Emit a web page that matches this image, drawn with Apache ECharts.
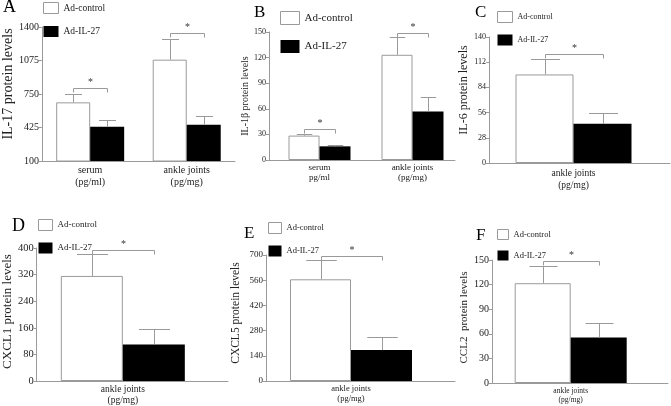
<!DOCTYPE html>
<html>
<head>
<meta charset="utf-8">
<script src="https://cdn.jsdelivr.net/npm/echarts@6/dist/echarts.min.js"></script>
<style>
html,body{margin:0;padding:0;background:#fff;}
#c{width:671px;height:406px;}
</style>
</head>
<body>
<div id="c"></div>
<script>
// ---------- data ----------
const seriesNames = ['Ad-control', 'Ad-IL-27'];

const catsA = ['serum\n(pg/ml)', 'ankle joints\n(pg/mg)'];
const il17Control = [669, 1083];
const il17ControlSem = [84, 200];
const il17Il27 = [433, 452];
const il17Il27Sem = [65, 85];
const il17Sig = [808, 1342];
const ticksA = [100, 425, 750, 1075, 1400];

const catsB = ['serum\npg/ml', 'ankle joints\n(pg/mg)'];
const il1bControl = [28.6, 123.3];
const il1bControlSem = [2.3, 21.2];
const il1bIl27 = [16, 56.8];
const il1bIl27Sem = [2, 17.2];
const il1bSig = [36.8, 148.4];

const catsC = ['ankle joints\n(pg/mg)'];
const il6Control = [98.4];
const il6ControlSem = [16.9];
const il6Il27 = [43.6];
const il6Il27Sem = [12.2];
const il6Sig = [121];

const catsD = ['ankle joints\n(pg/mg)'];
const cxcl1Control = [316];
const cxcl1ControlSem = [65];
const cxcl1Il27 = [110];
const cxcl1Il27Sem = [47];
const cxcl1Sig = [395];

const catsE = ['ankle joints\n(pg/mg)'];
const cxcl5Control = [565];
const cxcl5ControlSem = [109];
const cxcl5Il27 = [172];
const cxcl5Il27Sem = [72];
const cxcl5Sig = [697];

const catsF = ['ankle joints\n(pg/mg)'];
const ccl2Control = [121.7];
const ccl2ControlSem = [21];
const ccl2Il27 = [55.5];
const ccl2Il27Sem = [17.3];
const ccl2Sig = [148.8];

// ---------- panel setup ----------
const FONT = '"Liberation Serif", "DejaVu Serif", serif';
const GRAY = '#9a9a9a';

const panels = [
  {letter:'A', cats:catsA, ctrl:il17Control, ctrlSem:il17ControlSem, il27:il17Il27, il27Sem:il17Il27Sem, sig:il17Sig,
   yName:'IL-17 protein levels', yMin:100, yMax:1400, custom:ticksA,
   grid:{left:30, top:27, width:205, height:134}, bw:34, shift:0,
   yFont:10, nameFont:14, nameGap:17, namePad:[0,0,0,20], xFont:10, xLH:12, xMargin:3,
   title:{left:3, top:-2, size:18},
   legend:{left:43, top:2, w:15, h:11, gap:12, font:9.5}},
  {letter:'B', cats:catsB, ctrl:il1bControl, ctrlSem:il1bControlSem, il27:il1bIl27, il27Sem:il1bIl27Sem, sig:il1bSig,
   yName:'IL-1\u03b2 protein levels', yMin:0, yMax:150, interval:30,
   grid:{left:269, top:32, width:186, height:128}, bw:31, shift:4,
   yFont:8, nameFont:10, nameGap:16, namePad:[0,0,0,0], xFont:9, xLH:10, xMargin:3,
   title:{left:254, top:4, size:17},
   legend:{left:280, top:11, w:19, h:13, gap:15, font:11}},
  {letter:'C', cats:catsC, ctrl:il6Control, ctrlSem:il6ControlSem, il27:il6Il27, il27Sem:il6Il27Sem, sig:il6Sig,
   yName:'IL-6 protein levels', yMin:0, yMax:140, interval:28,
   grid:{left:489, top:37, width:181, height:126}, bw:58, shift:-6,
   yFont:8, nameFont:12, nameGap:14, namePad:[0,0,0,20], xFont:9.5, xLH:12, xMargin:4,
   title:{left:475, top:4, size:17},
   legend:{left:497, top:11, w:15, h:11, gap:11.5, font:8}},
  {letter:'D', cats:catsD, ctrl:cxcl1Control, ctrlSem:cxcl1ControlSem, il27:cxcl1Il27, il27Sem:cxcl1Il27Sem, sig:cxcl1Sig,
   yName:'CXCL1 protein levels', yMin:0, yMax:400, interval:80,
   grid:{left:31, top:248, width:197, height:134}, bw:62, shift:-9.5,
   yFont:10.5, nameFont:13, nameGap:16, namePad:[0,0,0,6], xFont:9.5, xLH:11, xMargin:3,
   title:{left:12, top:217, size:18},
   legend:{left:38, top:219, w:14, h:11, gap:11.5, font:9}},
  {letter:'E', cats:catsE, ctrl:cxcl5Control, ctrlSem:cxcl5ControlSem, il27:cxcl5Il27, il27Sem:cxcl5Il27Sem, sig:cxcl5Sig,
   yName:'CXCL5 protein levels', yMin:0, yMax:700, interval:140,
   grid:{left:266, top:255, width:189, height:126}, bw:61, shift:-9.5,
   yFont:9, nameFont:11.5, nameGap:24, namePad:[0,0,0,10], xFont:8.5, xLH:10, xMargin:3,
   title:{left:244, top:225, size:17},
   legend:{left:268, top:222, w:13, h:11, gap:11.5, font:8.5}},
  {letter:'F', cats:catsF, ctrl:ccl2Control, ctrlSem:ccl2ControlSem, il27:ccl2Il27, il27Sem:ccl2Il27Sem, sig:ccl2Sig,
   yName:'CCL2  protein levels', yMin:0, yMax:150, interval:30,
   grid:{left:492, top:260, width:176, height:123}, bw:56, shift:-9.3,
   yFont:10, nameFont:11, nameGap:17, namePad:[0,0,0,8], xFont:7.5, xLH:9, xMargin:4,
   title:{left:476, top:227, size:17},
   legend:{left:497, top:229, w:11, h:10, gap:10.5, font:8.5}}
];

function errRender(bw, shift){
  return function(params, api){
    const j = api.value(0), m = api.value(1), hi = api.value(2), g = api.value(3);
    const c = api.coord([j, m]);
    const t = api.coord([j, hi]);
    const x = Math.round(c[0] + shift + (g === 0 ? -bw/2 : bw/2)) + 0.5;
    const ty = Math.round(t[1]) + 0.5;
    const st = {stroke: GRAY, lineWidth: 1};
    return {type:'group', children:[
      {type:'line', shape:{x1:x, y1:c[1], x2:x, y2:ty}, style:st},
      {type:'line', shape:{x1:x - bw/4, y1:ty, x2:x + bw/4, y2:ty}, style:st}
    ]};
  };
}
function sigRender(bw, shift){
  return function(params, api){
    const j = api.value(0), v = api.value(1);
    const c = api.coord([j, v]);
    const x1 = Math.round(c[0] + shift - bw/2) + 0.5, x2 = Math.round(c[0] + shift + bw/2) + 0.5;
    const y = Math.round(c[1]) + 0.5;
    const st = {stroke: GRAY, lineWidth: 1, fill: null};
    return {type:'group', children:[
      {type:'polyline', shape:{points:[[x1, y + 4], [x1, y], [x2, y], [x2, y + 4]]}, style:st},
      {type:'text', style:{text:'*', x:(x1 + x2)/2, y:y - 1, align:'center', verticalAlign:'bottom',
        font:'10px ' + FONT, fill:'#333'}}
    ]};
  };
}

const grids = [], xAxes = [], yAxes = [], series = [], legends = [], titles = [];
panels.forEach((p, i) => {
  grids.push(Object.assign({containLabel:false}, p.grid));
  const padL = p.shift > 0 ? 2*p.shift : 0, padR = p.shift < 0 ? -2*p.shift : 0;
  xAxes.push({type:'category', gridIndex:i, data:p.cats,
    axisLine:{lineStyle:{color:GRAY, width:1}}, axisTick:{show:false},
    axisLabel:{fontFamily:FONT, fontSize:p.xFont, lineHeight:p.xLH, color:'#222', margin:p.xMargin,
      padding:[0, padR, 0, padL], interval:0}});
  const y = {type:'value', gridIndex:i, min:p.yMin, max:p.yMax,
    name:p.yName, nameLocation:'middle', nameRotate:90, nameGap:p.nameGap,
    nameTextStyle:{fontFamily:FONT, fontSize:p.nameFont, color:'#222', padding:p.namePad},
    splitLine:{show:false},
    axisLine:{show:true, lineStyle:{color:GRAY, width:1}},
    axisTick:{show:true, length:3, lineStyle:{color:GRAY}},
    axisLabel:{fontFamily:FONT, fontSize:p.yFont, color:'#222', margin:3, formatter:v => String(v)}};
  if (p.custom) {
    y.axisLabel.customValues = p.custom;
    y.axisTick.customValues = p.custom;
  } else {
    y.interval = p.interval;
  }
  yAxes.push(y);

  const spacer = w => ({type:'bar', name:'spacer' + i, xAxisIndex:i, yAxisIndex:i, barWidth:w, barGap:'0%',
    data:p.cats.map(() => 0), itemStyle:{color:'rgba(0,0,0,0)'}, silent:true});
  if (p.shift > 0) series.push(spacer(2*p.shift));
  series.push({type:'bar', name:seriesNames[0], xAxisIndex:i, yAxisIndex:i, barWidth:p.bw, barGap:'0%',
    data:p.ctrl, itemStyle:{color:'#fff', borderColor:GRAY, borderWidth:1}, silent:true});
  series.push({type:'bar', name:seriesNames[1], xAxisIndex:i, yAxisIndex:i, barWidth:p.bw, barGap:'0%',
    data:p.il27, itemStyle:{color:'#000'}, silent:true});
  if (p.shift < 0) series.push(spacer(-2*p.shift));

  const errData = [];
  p.cats.forEach((c, j) => {
    errData.push([j, p.ctrl[j], p.ctrl[j] + p.ctrlSem[j], 0]);
    errData.push([j, p.il27[j], p.il27[j] + p.il27Sem[j], 1]);
  });
  series.push({type:'custom', name:'err' + i, xAxisIndex:i, yAxisIndex:i, data:errData,
    encode:{x:0, y:[1, 2]}, renderItem:errRender(p.bw, p.shift), silent:true, z:5});
  series.push({type:'custom', name:'sig' + i, xAxisIndex:i, yAxisIndex:i,
    data:p.sig.map((v, j) => [j, v]), encode:{x:0, y:1}, renderItem:sigRender(p.bw, p.shift), silent:true, z:5});

  legends.push({
    data:[
      {name:seriesNames[0], icon:'rect', itemStyle:{color:'#fff', borderColor:GRAY, borderWidth:1}},
      {name:seriesNames[1], icon:'rect', itemStyle:{color:'#000', borderWidth:0}}
    ],
    orient:'vertical', left:p.legend.left, top:p.legend.top,
    padding:0, itemWidth:p.legend.w, itemHeight:p.legend.h, itemGap:p.legend.gap, selectedMode:false,
    textStyle:{fontFamily:FONT, fontSize:p.legend.font, color:'#222', lineHeight:p.legend.h}});
  titles.push({text:p.letter, left:p.title.left, top:p.title.top, padding:0,
    textStyle:{fontFamily:FONT, fontSize:p.title.size, fontWeight:'normal', color:'#000'}});
});

const chart = echarts.init(document.getElementById('c'), null, {renderer:'canvas'});
chart.setOption({
  animation:false,
  backgroundColor:'#fff',
  title:titles,
  legend:legends,
  grid:grids,
  xAxis:xAxes,
  yAxis:yAxes,
  series:series
});
</script>
</body>
</html>
